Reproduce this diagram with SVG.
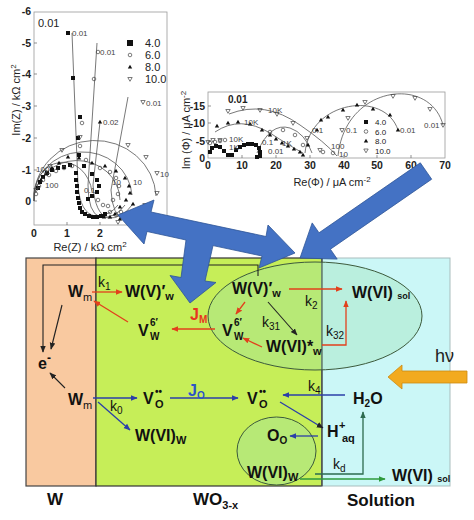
<svg xmlns="http://www.w3.org/2000/svg" width="474" height="520" viewBox="0 0 474 520">
<style>
text{font-family:"Liberation Sans",Arial,sans-serif}
.sp{font-size:16px;font-weight:bold;fill:#111}
.kk{font-size:14px;fill:#111}
.ax{font-size:11px;fill:#222}
.tk{font-size:10.5px;font-weight:bold;fill:#222}
.lb{font-size:8px;fill:#444}
.lg{font-size:11px;fill:#222}
.bt{font-size:17px;font-weight:bold;fill:#111}
.crv{fill:none;stroke:#555;stroke-width:0.8}
.c-k{stroke:#222;stroke-width:1.1;fill:none}
.c-r{stroke:#E2401C;stroke-width:1.3;fill:none}
.c-b{stroke:#2B3FA8;stroke-width:1.3;fill:none}
.c-g{stroke:#2E9A3C;stroke-width:1.3;fill:none}
.c-d{stroke:#2D6B4F;stroke-width:1.3;fill:none}
</style>
<defs>
<marker id="aK" viewBox="0 0 10 10" refX="9" refY="5" markerWidth="7" markerHeight="7" markerUnits="userSpaceOnUse" orient="auto"><path d="M0,1L10,5L0,9z" fill="#222"/></marker>
<marker id="aR" viewBox="0 0 10 10" refX="9" refY="5" markerWidth="7" markerHeight="7" markerUnits="userSpaceOnUse" orient="auto"><path d="M0,1L10,5L0,9z" fill="#E2401C"/></marker>
<marker id="aB" viewBox="0 0 10 10" refX="9" refY="5" markerWidth="7" markerHeight="7" markerUnits="userSpaceOnUse" orient="auto"><path d="M0,1L10,5L0,9z" fill="#2B3FA8"/></marker>
<marker id="aG" viewBox="0 0 10 10" refX="9" refY="5" markerWidth="7" markerHeight="7" markerUnits="userSpaceOnUse" orient="auto"><path d="M0,1L10,5L0,9z" fill="#2E9A3C"/></marker>
<marker id="aD" viewBox="0 0 10 10" refX="9" refY="5" markerWidth="7" markerHeight="7" markerUnits="userSpaceOnUse" orient="auto"><path d="M0,1L10,5L0,9z" fill="#2D6B4F"/></marker>
<path id="sq" d="M-2,-2h4v4h-4z" fill="#111"/>
<circle id="ci" r="1.8" fill="none" stroke="#444" stroke-width="0.7"/>
<path id="tr" d="M0,-2.3L2.2,1.5H-2.2z" fill="#111"/>
<path id="it" d="M0,2.3L2.2,-1.5H-2.2z" fill="none" stroke="#444" stroke-width="0.7"/>
</defs>
<rect width="474" height="520" fill="#fff"/>

<!-- Plot 1: Nyquist Z -->
<g id="plotZ">
<rect x="34" y="12" width="133" height="213" fill="#fff" stroke="#999" stroke-width="0.8"/>
<g stroke="#666" stroke-width="0.7">
<path d="M34,43h3M34,74h3M34,106h3M34,138h3M34,170h3M34,201h3M67,225v-3M100,225v-3M133,225v-3"/>
</g>
<g class="tk" text-anchor="end">
<text x="31" y="15">-6</text><text x="31" y="47">-5</text><text x="31" y="78">-4</text><text x="31" y="110">-3</text><text x="31" y="142">-2</text><text x="31" y="174">-1</text><text x="31" y="205">0</text>
</g>
<g class="tk" text-anchor="middle"><text x="34" y="237">0</text><text x="67" y="237">1</text><text x="100" y="237">2</text></g>
<text class="ax" x="90" y="251" text-anchor="middle">Re(Z) / kΩ cm<tspan font-size="8" dy="-4">2</tspan></text>
<text class="ax" transform="translate(20,100) rotate(-90)" text-anchor="middle">Im(Z) / kΩ cm<tspan font-size="8" dy="-4">2</tspan></text>
<text x="38" y="27" font-size="11" fill="#222">0.01</text>
<path class="crv" d="M34,201 A61,58 0 0 1 156,196 M34,201 A49,46 0 0 1 132,195 M34,201 A43,40 0 0 1 120,200 M34,201 A29,34 0 0 1 92,192"/>
<path class="crv" d="M72,33 L78,185 Q80,213 95,216 Q110,216 118,205 M97,43 L88,185 Q88,213 100,217 Q115,219 125,205 M100,122 L93,185 Q95,214 108,218 Q122,219 132,205 M128,97 L111,190 Q112,216 125,220 Q138,221 150,210"/>
<g>
<use href="#sq" x="68" y="33"/><use href="#sq" x="73" y="78"/><use href="#sq" x="80" y="117"/><use href="#sq" x="78" y="138"/><use href="#sq" x="79" y="155"/><use href="#sq" x="84" y="166"/><use href="#sq" x="70" y="165"/><use href="#sq" x="76" y="173"/><use href="#sq" x="76" y="180"/><use href="#sq" x="77" y="186"/><use href="#sq" x="77" y="192"/><use href="#sq" x="78" y="198"/><use href="#sq" x="79" y="203"/><use href="#sq" x="80" y="208"/><use href="#sq" x="82" y="212"/><use href="#sq" x="85" y="214"/><use href="#sq" x="89" y="216"/><use href="#sq" x="93" y="217"/><use href="#sq" x="97" y="217"/><use href="#sq" x="101" y="216"/><use href="#sq" x="105" y="214"/><use href="#sq" x="38" y="188"/><use href="#sq" x="40" y="182"/><use href="#sq" x="43" y="177"/><use href="#sq" x="47" y="173"/><use href="#sq" x="52" y="170"/><use href="#sq" x="58" y="168"/><use href="#sq" x="64" y="167"/><use href="#sq" x="92" y="174"/><use href="#sq" x="97" y="180"/><use href="#sq" x="99" y="186"/><use href="#sq" x="97" y="192"/><use href="#sq" x="92" y="196"/><use href="#sq" x="88" y="199"/>
<use href="#ci" x="98" y="52"/><use href="#ci" x="94" y="79"/><use href="#ci" x="82" y="123"/><use href="#ci" x="80" y="146"/><use href="#ci" x="86" y="160"/><use href="#ci" x="100" y="168"/><use href="#ci" x="110" y="172"/><use href="#ci" x="116" y="178"/><use href="#ci" x="119" y="186"/><use href="#ci" x="118" y="194"/><use href="#ci" x="113" y="200"/><use href="#ci" x="108" y="206"/><use href="#ci" x="110" y="212"/><use href="#ci" x="116" y="215"/><use href="#ci" x="121" y="212"/><use href="#ci" x="36" y="194"/><use href="#ci" x="39" y="186"/><use href="#ci" x="43" y="180"/><use href="#ci" x="49" y="175"/><use href="#ci" x="56" y="171"/><use href="#ci" x="64" y="168"/><use href="#ci" x="72" y="166"/><use href="#ci" x="103" y="205"/><use href="#ci" x="98" y="200"/>
<use href="#tr" x="100" y="122"/><use href="#tr" x="68" y="157"/><use href="#tr" x="79" y="158"/><use href="#tr" x="92" y="163"/><use href="#tr" x="105" y="166"/><use href="#tr" x="116" y="171"/><use href="#tr" x="125" y="178"/><use href="#tr" x="129" y="186"/><use href="#tr" x="130" y="193"/><use href="#tr" x="126" y="200"/><use href="#tr" x="120" y="207"/><use href="#tr" x="115" y="214"/><use href="#tr" x="110" y="217"/><use href="#tr" x="104" y="217"/><use href="#tr" x="41" y="180"/><use href="#tr" x="46" y="174"/><use href="#tr" x="52" y="168"/><use href="#tr" x="59" y="163"/><use href="#tr" x="133" y="204"/><use href="#tr" x="128" y="214"/><use href="#tr" x="120" y="219"/>
<use href="#it" x="143" y="102"/><use href="#it" x="80" y="137"/><use href="#it" x="62" y="150"/><use href="#it" x="128" y="145"/><use href="#it" x="146" y="157"/><use href="#it" x="157" y="173"/><use href="#it" x="157" y="193"/><use href="#it" x="145" y="205"/><use href="#it" x="137" y="213"/><use href="#it" x="126" y="220"/><use href="#it" x="118" y="222"/><use href="#it" x="36" y="190"/><use href="#it" x="45" y="172"/><use href="#it" x="50" y="166"/>
</g>
<g class="lb">
<text x="72" y="36">0.01</text><text x="100" y="55">0.01</text><text x="103" y="125">0.02</text><text x="146" y="106">0.01</text>
<text x="36" y="172">100</text><text x="45" y="188">100</text><text x="112" y="185">10</text><text x="133" y="185">10</text><text x="160" y="177">10</text><text x="84" y="193">0.1</text>
</g>
<g class="lg">
<use href="#sq" x="130" y="43" transform="translate(-65,-21.5) scale(1.5)"/><text x="145" y="47">4.0</text>
<use href="#ci" x="130" y="55"/><text x="145" y="59">6.0</text>
<use href="#tr" x="130" y="67"/><text x="145" y="71">8.0</text>
<use href="#it" x="130" y="79"/><text x="145" y="83">10.0</text>
</g>
</g>

<!-- Plot 2: Nyquist Phi -->
<g id="plotPhi">
<rect x="208" y="92" width="237" height="66" fill="#fff" stroke="#999" stroke-width="0.8"/>
<g stroke="#666" stroke-width="0.7">
<path d="M208,106h3M208,123h3M208,141h3M242,158v-3M276,158v-3M310,158v-3M344,158v-3M377,158v-3M411,158v-3"/>
</g>
<g class="tk" text-anchor="end"><text x="205" y="110">-15</text><text x="205" y="127">-10</text><text x="205" y="145">-5</text><text x="205" y="162">0</text></g>
<g class="tk" text-anchor="middle"><text x="208" y="169">0</text><text x="242" y="169">10</text><text x="276" y="169">20</text><text x="310" y="169">30</text><text x="344" y="169">40</text><text x="377" y="169">50</text><text x="411" y="169">60</text><text x="445" y="169">70</text></g>
<text class="ax" x="332" y="186" text-anchor="middle" font-size="12">Re(Φ) / μA cm<tspan font-size="8" dy="-4">-2</tspan></text>
<text class="ax" transform="translate(190,130) rotate(-90)" text-anchor="middle">Im (Φ) / μA cm<tspan font-size="8" dy="-4">-2</tspan></text>
<text x="228" y="103" font-size="10" font-weight="bold" fill="#222">0.01</text>
<path class="crv" d="M229,114 Q265,100 300,125 Q325,142 337,156 M215,132 Q240,115 270,133 Q290,146 303,153 M257,153 Q270,122 290,128 Q305,133 312,153 M305,153 C310,100 385,90 398,130 M338,156 C345,85 430,75 443,125"/>
<g>
<use href="#sq" x="210" y="152"/><use href="#sq" x="212" y="148"/><use href="#sq" x="216" y="146"/><use href="#sq" x="220" y="147"/><use href="#sq" x="224" y="151"/><use href="#sq" x="228" y="155"/><use href="#sq" x="232" y="155"/><use href="#sq" x="236" y="150"/><use href="#sq" x="240" y="147"/><use href="#sq" x="244" y="145"/><use href="#sq" x="248" y="144"/><use href="#sq" x="252" y="144"/><use href="#sq" x="256" y="145"/><use href="#sq" x="259" y="148"/><use href="#sq" x="260" y="152"/><use href="#sq" x="260" y="156"/><use href="#sq" x="257" y="157"/>
<use href="#tr" x="217" y="126"/><use href="#tr" x="228" y="123"/><use href="#tr" x="238" y="122"/><use href="#tr" x="250" y="124"/><use href="#tr" x="262" y="130"/><use href="#tr" x="270" y="135"/><use href="#tr" x="276" y="139"/><use href="#tr" x="282" y="143"/><use href="#tr" x="288" y="146"/><use href="#tr" x="294" y="149"/><use href="#tr" x="300" y="152"/><use href="#tr" x="303" y="155"/>
<use href="#it" x="228" y="111"/><use href="#it" x="243" y="108"/><use href="#it" x="260" y="110"/><use href="#it" x="277" y="114"/><use href="#it" x="293" y="123"/><use href="#it" x="307" y="138"/><use href="#it" x="320" y="150"/><use href="#it" x="208" y="142"/><use href="#it" x="213" y="140"/><use href="#it" x="220" y="140"/>
<use href="#ci" x="210" y="143"/><use href="#ci" x="215" y="142"/><use href="#ci" x="220" y="141"/><use href="#ci" x="225" y="140"/><use href="#ci" x="270" y="132"/><use href="#ci" x="283" y="130"/><use href="#ci" x="295" y="135"/><use href="#ci" x="303" y="145"/><use href="#ci" x="323" y="152"/><use href="#ci" x="333" y="153"/>
<use href="#tr" x="308" y="145"/><use href="#tr" x="317" y="130"/><use href="#tr" x="321" y="120"/><use href="#tr" x="328" y="117"/><use href="#tr" x="343" y="110"/><use href="#tr" x="357" y="105"/><use href="#tr" x="373" y="109"/><use href="#tr" x="390" y="115"/><use href="#tr" x="398" y="130"/>
<use href="#it" x="342" y="130"/><use href="#it" x="348" y="118"/><use href="#it" x="365" y="102"/><use href="#it" x="393" y="96"/><use href="#it" x="415" y="98"/><use href="#it" x="430" y="109"/><use href="#it" x="443" y="125"/>
</g>
<g class="lb">
<text x="268" y="113">10K</text><text x="244" y="125">10K</text><text x="229" y="142">10K</text><text x="229" y="150">1K</text><text x="262" y="145">0.1</text><text x="268" y="154">0.01</text><text x="282" y="146">1K</text><text x="312" y="133">0.1</text><text x="346" y="133">0.1</text><text x="400" y="133">0.01</text><text x="424" y="128">0.01</text><text x="331" y="149">100</text><text x="339" y="157">10</text>
</g>
<g font-size="8" fill="#222">
<use href="#sq" x="366" y="122"/><text x="375" y="125">4.0</text>
<use href="#ci" x="366" y="131.5"/><text x="375" y="134.5">6.0</text>
<use href="#tr" x="366" y="141"/><text x="375" y="144">8.0</text>
<use href="#it" x="366" y="150.5"/><text x="375" y="153.5">10.0</text>
</g>
</g>

<!-- Regions -->
<g id="regions">
<rect id="regW" x="26" y="258" width="70" height="228" fill="#F9C9A0" stroke="#444" stroke-width="1.2"/>
<rect id="regWO" x="96" y="258" width="226" height="228" fill="#C6EE58" stroke="#333" stroke-width="1.2"/>
<rect id="regSol" x="322" y="258" width="128" height="228" fill="#CBF7F7" stroke="#A9BDBD" stroke-width="1"/>
<line x1="322" y1="258" x2="322" y2="486" stroke="#333" stroke-width="1.2"/>
<ellipse id="ellBig" cx="315" cy="316" rx="107" ry="54" fill="#9ADFB0" fill-opacity="0.35" stroke="#3C5A3C" stroke-width="1"/>
<ellipse id="ellSmall" cx="276.5" cy="451" rx="39.5" ry="34" fill="#9ADFB0" fill-opacity="0.35" stroke="#3C5A3C" stroke-width="1"/>
</g>

<!-- Connectors -->
<g id="connectors">
<path class="c-k" d="M258,276V265H43V352" marker-end="url(#aK)"/>
<line class="c-k" x1="62" y1="305" x2="51" y2="349" marker-end="url(#aK)"/>
<line class="c-k" x1="65" y1="388" x2="50" y2="373" marker-end="url(#aK)"/>
<line class="c-k" x1="268" y1="302" x2="297" y2="335" marker-end="url(#aK)"/>
<line class="c-r" x1="92" y1="292" x2="122" y2="292" marker-end="url(#aR)"/>
<line class="c-r" x1="128" y1="322" x2="94" y2="301" marker-end="url(#aR)"/>
<line class="c-r" x1="215" y1="329" x2="172" y2="329" marker-end="url(#aR)"/>
<line class="c-r" x1="245" y1="302" x2="236" y2="314" marker-end="url(#aR)"/>
<line class="c-r" x1="262" y1="347" x2="243" y2="338" marker-end="url(#aR)"/>
<line class="c-r" x1="289" y1="289" x2="342" y2="289" marker-end="url(#aR)"/>
<path class="c-r" d="M322,345H346V301" marker-end="url(#aR)"/>
<line class="c-b" x1="93" y1="398" x2="137" y2="398" marker-end="url(#aB)"/>
<line class="c-b" x1="170" y1="398" x2="238" y2="398" marker-end="url(#aB)"/>
<line class="c-b" x1="98" y1="402" x2="130" y2="430" marker-end="url(#aB)"/>
<line class="c-b" x1="345" y1="395" x2="283" y2="395" marker-end="url(#aB)"/>
<line class="c-b" x1="280" y1="402" x2="323" y2="428" marker-end="url(#aK)"/>
<line class="c-b" x1="318" y1="436" x2="290" y2="436" marker-end="url(#aB)"/>
<line class="c-g" x1="300" y1="479" x2="385" y2="479" marker-end="url(#aG)"/>
<path class="c-d" d="M315,474H363V412" marker-end="url(#aD)"/>
</g>

<!-- Nodes -->
<g id="n-e"><text class="sp" x="38" y="369">e<tspan font-size="12" dy="-7">-</tspan></text></g>
<g id="n-Wm1"><text class="sp" x="68" y="297">W<tspan font-size="11" font-weight="normal" dy="4">m</tspan></text></g>
<g id="n-k1"><text class="kk" x="98" y="287">k<tspan font-size="10" dy="3">1</tspan></text></g>
<g id="n-WVw1"><text class="sp" x="125" y="297">W(V)′<tspan font-size="11" dy="3">w</tspan></text></g>
<g id="n-V6w1"><text class="sp" x="138" y="336">V<tspan font-size="10" x="150" dy="-10">6′</tspan><tspan font-size="10" x="150" dy="14">W</tspan></text></g>
<g id="n-JM"><text class="sp" x="190" y="320" style="fill:#E8351F">J<tspan font-size="10" dy="3">M</tspan></text></g>
<g id="n-V6w2"><text class="sp" x="222" y="336">V<tspan font-size="10" x="234" dy="-10">6′</tspan><tspan font-size="10" x="234" dy="14">W</tspan></text></g>
<g id="n-WVw2"><text class="sp" x="232" y="294">W(V)′<tspan font-size="11" dy="3">w</tspan></text></g>
<g id="n-k31"><text class="kk" x="262" y="327">k<tspan font-size="10" dy="3">31</tspan></text></g>
<g id="n-WVIstar"><text class="sp" x="266" y="352">W(VI)*<tspan font-size="11" dy="3">w</tspan></text></g>
<g id="n-k2"><text class="kk" x="305" y="306">k<tspan font-size="10" dy="3">2</tspan></text></g>
<g id="n-WVIsol1"><text class="sp" x="352" y="298">W(VI) <tspan font-size="9" dy="1">sol</tspan></text></g>
<g id="n-k32"><text class="kk" x="326" y="336">k<tspan font-size="10" dy="3">32</tspan></text></g>
<g id="n-hv"><text x="435" y="362" font-size="18" fill="#222">hν</text>
<path d="M388,377L402,365V371H467V383H402V389Z" fill="#F2AA1F" stroke="#CC8A12" stroke-width="0.8"/></g>
<g id="n-k4"><text class="kk" x="308" y="391">k<tspan font-size="10" dy="3">4</tspan></text></g>
<g id="n-H2O"><text class="sp" x="353" y="404">H<tspan font-size="10" dy="3">2</tspan><tspan dy="-3">O</tspan></text></g>
<g id="n-Vo1"><text class="sp" x="143" y="404">V<tspan font-size="10" x="155" dy="-9">••</tspan><tspan font-size="11" x="155" dy="13">O</tspan></text></g>
<g id="n-JO"><text class="sp" x="188" y="396" style="fill:#2C55C8">J<tspan font-size="10" dy="3">O</tspan></text></g>
<g id="n-Vo2"><text class="sp" x="247" y="404">V<tspan font-size="10" x="259" dy="-9">••</tspan><tspan font-size="11" x="259" dy="13">O</tspan></text></g>
<g id="n-Wm2"><text class="sp" x="68" y="405">W<tspan font-size="11" font-weight="normal" dy="4">m</tspan></text></g>
<g id="n-k0"><text class="kk" x="110" y="411">k<tspan font-size="10" dy="3">0</tspan></text></g>
<g id="n-WVIw1"><text class="sp" x="135" y="441">W(VI)<tspan font-size="11" dy="3">W</tspan></text></g>
<g id="n-Haq"><text class="sp" x="327" y="437">H<tspan font-size="11" x="339" dy="-8">+</tspan><tspan font-size="11" x="342" dy="13">aq</tspan></text></g>
<g id="n-Oo"><text class="sp" x="267" y="441">O<tspan font-size="10" dy="3">O</tspan></text></g>
<g id="n-WVIw2"><text class="sp" x="247" y="478">W(VI)<tspan font-size="11" dy="3">W</tspan></text></g>
<g id="n-kd"><text class="kk" x="333" y="469">k<tspan font-size="10" dy="3">d</tspan></text></g>
<g id="n-WVIsol2"><text class="sp" x="392" y="481">W(VI) <tspan font-size="9" dy="1">sol</tspan></text></g>
<g id="labels-bottom">
<text class="bt" x="55" y="505" text-anchor="middle">W</text>
<text class="bt" x="193" y="505">WO<tspan font-size="11" dy="4">3-x</tspan></text>
<text class="bt" x="347" y="506">Solution</text>
</g>

<!-- Big blue arrows -->
<g id="bigArrows" fill="#4472C4" stroke="#2F5597" stroke-width="0.8" stroke-linejoin="round">
<path d="M118,215 L154,200 L151,212 L266,236.5 L268,225 L295,253 L259,268 L262,256 L213,245.6 L205,281 L216,282.5 L190,303 L170,275.5 L181,277.5 L186,240 L147,231.5 L144,244 Z"/>
<path d="M420.3,162.8 L431.7,179.2 L330.4,249.2 L337.2,259.1 L300,258 L312.2,222.9 L319,232.8 Z"/>
</g>
</svg>
